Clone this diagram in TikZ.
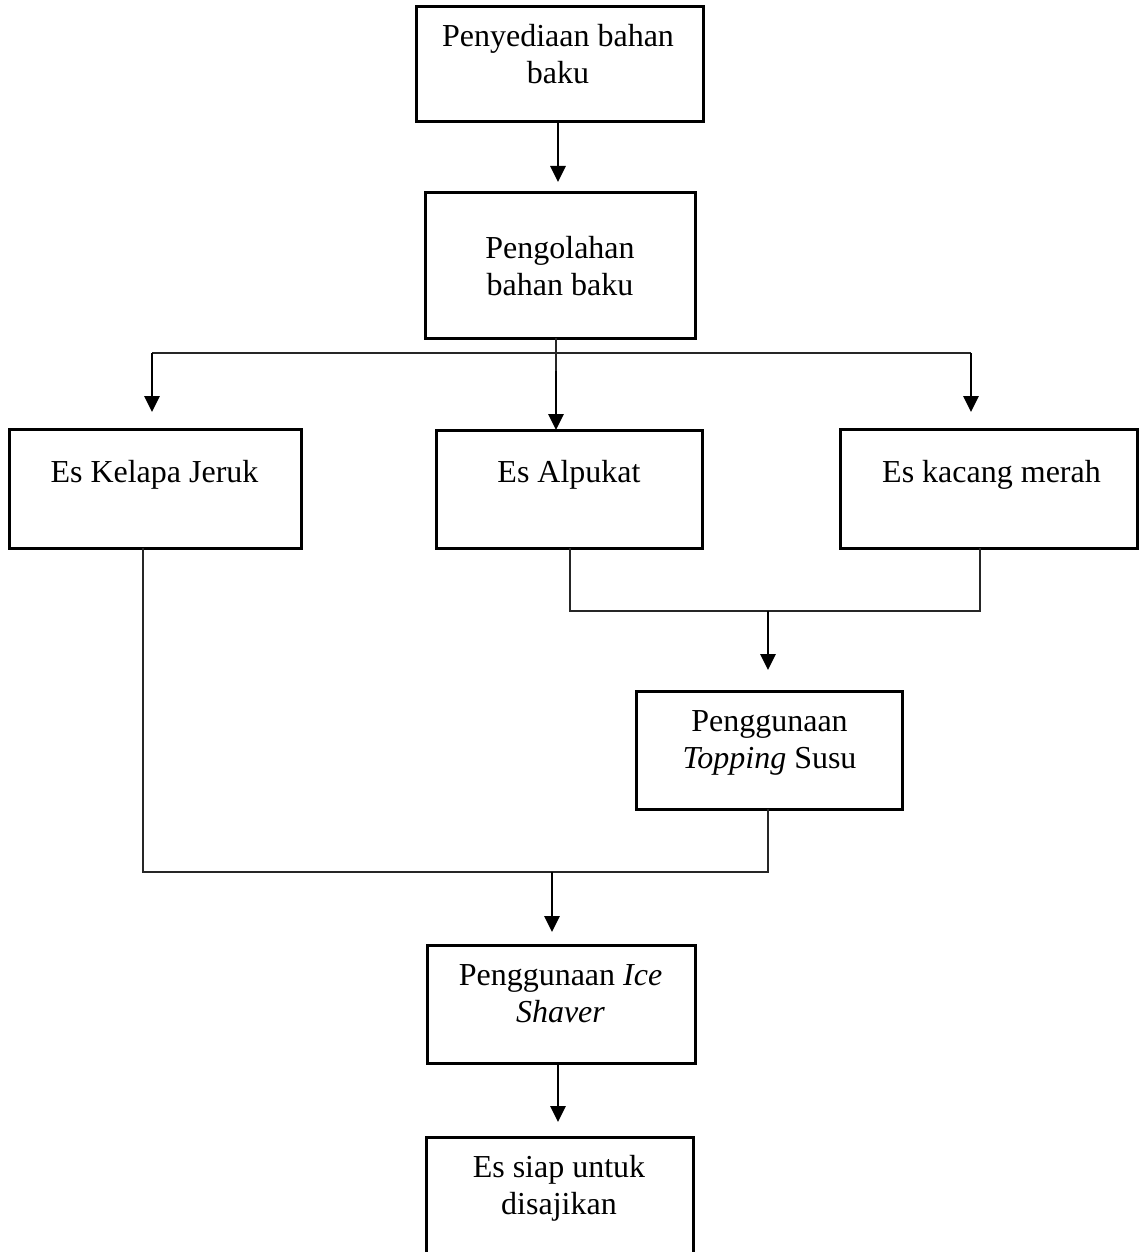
\documentclass[tikz,border=0pt]{standalone}
\usepackage{fontspec}
\setmainfont{Liberation Serif}
\usetikzlibrary{arrows.meta,calc}
\begin{document}
\begin{tikzpicture}[x=1pt,y=-1pt,
  box/.style={draw=black,line width=3pt,rectangle,inner sep=0pt,outer sep=0pt},
  txt/.style={align=center,inner sep=0pt,anchor=base,font=\fontsize{32}{37}\selectfont},
  thin/.style={draw=black!85,line width=1.4pt},
  arr/.style={draw=black,line width=2.8pt,-{Triangle[length=16pt,width=15pt]}}]
\useasboundingbox (0,0) rectangle (1145,1252);
% boxes
\node[box,minimum width=287pt,minimum height=115pt] (b1) at (559.5,64.5) {};
\node[box,minimum width=270pt,minimum height=145pt] (b2) at (560,265.5) {};
\node[box,minimum width=292pt,minimum height=119pt] (b3) at (155,488.5) {};
\node[box,minimum width=266pt,minimum height=118pt] (b4) at (569,489) {};
\node[box,minimum width=297pt,minimum height=119pt] (b5) at (988.5,488.5) {};
\node[box,minimum width=266pt,minimum height=118pt] (b6) at (769,750) {};
\node[box,minimum width=268pt,minimum height=118pt] (b7) at (561,1004) {};
\node[box,minimum width=267pt,minimum height=118pt] (b8) at (559.5,1196) {};
% texts (anchor = baseline of the last line)
\node[txt] (t1) at (558,84) {Penyediaan bahan\\baku};
\node[txt] (t2) at (560,295) {Pengolahan\\bahan baku};
\node[txt] (t3) at (154.5,482) {Es Kelapa Jeruk};
\node[txt] (t4) at (569,482) {Es Alpukat};
\node[txt] (t5) at (991.5,482) {Es kacang merah};
\node[txt] (t6) at (769.5,768) {Penggunaan\\\textit{Topping} Susu};
\node[txt] (t7) at (560.5,1022) {Penggunaan \textit{Ice}\\\textit{Shaver}};
\node[txt] (t8) at (559,1214) {Es siap untuk\\disajikan};
% junction coordinates
\coordinate (jL) at (152,353);
\coordinate (jM) at (556,353);
\coordinate (jMa) at (556,371);
\coordinate (jR) at (971,353);
\coordinate (jA) at (570,611);
\coordinate (jB) at (980,611);
\coordinate (jT) at (768,611);
\coordinate (jC) at (143,872);
\coordinate (jD) at (768,872);
\coordinate (jS) at (552,872);
% connectors
\draw[arr] ([xshift=-1.5pt]b1.south) -- ([xshift=-2pt,yshift=11pt]b2.north);
\draw[thin] ([xshift=-4pt]b2.south) -- (jMa);
\draw[thin] (jL) -- (jR);
\draw[arr] (jL) -- (jL |- 0,412);
\draw[arr] (jMa) -- ([xshift=-13pt]b4.north);
\draw[arr] (jR) -- (jR |- 0,412);
\draw[thin] ([xshift=1pt]b4.south) -- (jA) -- (jB) -- ([xshift=-8.5pt]b5.south);
\draw[arr] (jT) -- ([xshift=-1pt,yshift=21pt]b6.north);
\draw[thin] ([xshift=-12pt]b3.south) -- (jC) -- (jD) -- ([xshift=-1pt]b6.south);
\draw[arr] (jS) -- ([xshift=-9pt,yshift=13pt]b7.north);
\draw[arr] ([xshift=-3pt]b7.south) -- ([xshift=-1.5pt,yshift=15pt]b8.north);
\end{tikzpicture}
\end{document}
